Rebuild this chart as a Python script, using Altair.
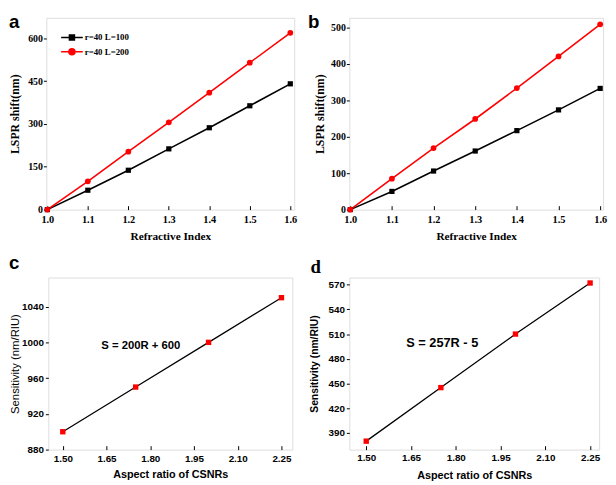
import altair as alt
import pandas as pd

# ---------------- data ----------------
refractive_index = [1.0, 1.1, 1.2, 1.3, 1.4, 1.5, 1.6]
series_names = ["r=40 L=100", "r=40 L=200"]
a_L100 = [0, 68, 138, 213, 287, 364, 441]
a_L200 = [0, 99, 203, 306, 410, 515, 620]
b_L100 = [0, 50, 106, 161, 217, 274, 333]
b_L200 = [0, 85, 169, 249, 334, 421, 509]
aspect_ratio = [1.5, 1.75, 2.0, 2.25]
c_sensitivity = [900, 950, 1000, 1050]
d_sensitivity = [380, 445, 510, 572]

ri_ticks = [1.0, 1.1, 1.2, 1.3, 1.4, 1.5, 1.6]
a_yticks = [0, 150, 300, 450, 600]
b_yticks = [0, 100, 200, 300, 400, 500]
ar_ticks = [1.5, 1.65, 1.8, 1.95, 2.1, 2.25]
c_yticks = [880, 920, 960, 1000, 1040]
d_yticks = [390, 420, 450, 480, 510, 540, 570]

SERIF = "Liberation Serif"
SANS = "Liberation Sans"

# legend glyphs: short line with a marker in the middle
SQ = "M-2.2,0H2.2M-0.5,-0.5H0.5V0.5H-0.5ZM-0.5,-0.25H0.5M-0.5,0.25H0.5"
CI = "M-2.2,0H2.2M0.6,0A0.6,0.6,0,1,1,-0.6,0A0.6,0.6,0,1,1,0.6,0ZM-0.45,-0.3H0.45M-0.45,0.3H0.45"


def panel_label(text, x, y, font, size, baseline):
    return alt.Chart(alt.Data(values=[{"t": text}])).mark_text(
        align="left", baseline=baseline, font=font, fontSize=size,
        fontWeight="bold", color="black"
    ).encode(x=alt.value(x), y=alt.value(y), text="t:N")


def lspr_panel(l100, l200, w, h, xdom, ydom, yticks, ytitle_pad,
               lx, ly, rowpad, label, label_x, label_y, label_font):
    d100 = pd.DataFrame({"n": refractive_index, "shift": l100})
    d200 = pd.DataFrame({"n": refractive_index, "shift": l200})
    xenc = alt.X("n:Q", scale=alt.Scale(domain=xdom, nice=False, zero=False),
                 axis=alt.Axis(values=ri_ticks, format=".1f", title="Refractive Index",
                               offset=-4, tickSize=4, labelPadding=5, titlePadding=6,
                               domain=False, grid=False, labelFlush=False, labelOverlap=False,
                               labelFont=SERIF, labelFontSize=10.5, labelFontWeight="bold",
                               titleFont=SERIF, titleFontSize=11.5, titleFontWeight="bold",
                               labelColor="black", titleColor="black", tickColor="black"))
    yenc = alt.Y("shift:Q", scale=alt.Scale(domain=ydom, nice=False, zero=False),
                 axis=alt.Axis(values=yticks, format="d", title="LSPR shift(nm)",
                               tickSize=3, labelPadding=1, titlePadding=ytitle_pad,
                               domain=False, grid=False, labelFlush=False, labelOverlap=False,
                               labelFont=SERIF, labelFontSize=10, labelFontWeight="bold",
                               titleFont=SERIF, titleFontSize=12, titleFontWeight="bold",
                               labelColor="black", titleColor="black", tickColor="black"))
    leg = alt.Legend(
        title=None, orient="none", legendX=lx, legendY=ly, symbolSize=100,
        labelFont=SERIF, labelFontSize=9, labelFontWeight="bold", labelColor="black",
        labelOffset=7, rowPadding=rowpad, padding=0, symbolStrokeWidth=1.6,
        symbolOpacity=1,
    )
    cscale = alt.Scale(domain=series_names, range=["black", "red"])
    sscale = alt.Scale(domain=series_names, range=[SQ, CI])
    line100 = alt.Chart(d100).mark_line(color="black", strokeWidth=1.6).encode(x=xenc, y=yenc)
    line200 = alt.Chart(d200).mark_line(color="red", strokeWidth=1.6).encode(x=xenc, y=yenc)
    pts100 = alt.Chart(d100).mark_point(shape="square", filled=True, color="black",
                                        size=28, opacity=1).encode(x=xenc, y=yenc)
    pts200 = alt.Chart(d200).mark_point(shape="circle", filled=True, color="red",
                                        size=34, opacity=1).encode(x=xenc, y=yenc)
    legend_layer = alt.Chart(alt.Data(values=[{"series": s} for s in series_names])).transform_filter(
        "false"
    ).mark_point(filled=False, opacity=1, strokeWidth=1.6).encode(
        color=alt.Color("series:N", scale=cscale, legend=leg),
        shape=alt.Shape("series:N", scale=sscale, legend=leg),
    )
    lab = panel_label(label, label_x, label_y, label_font, 19, "top")
    return alt.layer(line100, line200, pts100, pts200, legend_layer, lab).properties(width=w, height=h)


def sens_panel(vals, w, h, xdom, ydom, yticks, ytitle_pad, ytitle_weight, ytitle_size,
               xlabel_pad, xtitle_pad, eq_text, eq_x, eq_y, eq_size,
               label, label_x, label_y, label_font, label_baseline):
    df = pd.DataFrame({"ar": aspect_ratio, "s": vals})
    xenc = alt.X("ar:Q", scale=alt.Scale(domain=xdom, nice=False, zero=False),
                 axis=alt.Axis(values=ar_ticks, format=".2f", title="Aspect ratio of CSNRs",
                               offset=-4, tickSize=4, labelPadding=xlabel_pad, titlePadding=xtitle_pad,
                               domain=False, grid=False, labelFlush=False, labelOverlap=False,
                               labelFont=SANS, labelFontSize=10, labelFontWeight="bold",
                               titleFont=SANS, titleFontSize=11, titleFontWeight="bold",
                               labelColor="black", titleColor="black", tickColor="black"))
    yenc = alt.Y("s:Q", scale=alt.Scale(domain=ydom, nice=False, zero=False),
                 axis=alt.Axis(values=yticks, format="d", title="Sensitivity (nm/RIU)",
                               tickSize=3, labelPadding=2, titlePadding=ytitle_pad,
                               domain=False, grid=False, labelFlush=False, labelOverlap=False,
                               labelFont=SANS, labelFontSize=10, labelFontWeight="bold",
                               titleFont=SANS, titleFontSize=ytitle_size, titleFontWeight=ytitle_weight,
                               labelColor="black", titleColor="black", tickColor="black"))
    line = alt.Chart(df).mark_line(color="black", strokeWidth=1.3).encode(x=xenc, y=yenc)
    pts = alt.Chart(df).mark_point(shape="square", filled=True, color="red", size=30,
                                   opacity=1).encode(x=xenc, y=yenc)
    eq = alt.Chart(alt.Data(values=[{"t": eq_text}])).mark_text(
        font=SANS, fontWeight="bold", fontSize=eq_size, color="black"
    ).encode(x=alt.value(eq_x), y=alt.value(eq_y), text="t:N")
    lab = panel_label(label, label_x, label_y, label_font, 19, label_baseline)
    return alt.layer(line, pts, eq, lab).properties(width=w, height=h)


pa = lspr_panel(a_L100, a_L200, 252, 195, [0.9976, 1.6097], [0, 672.4], a_yticks, 6,
                20, 14, 1.5, "a", -38, -5, SANS)
pb = lspr_panel(b_L100, b_L200, 258, 195, [0.9977, 1.6070], [0, 527], b_yticks, 4,
                21.5, 12.5, 0, "b", -42, -5, SANS)
pc = sens_panel(c_sensitivity, 248, 175, [1.4504, 2.2871], [880, 1072.6], c_yticks, 1.5,
                "normal", 11.5, 4.5, 5, "S = 200R + 600", 94, 70, 11.5,
                "c", -40, -9, SANS, "alphabetic")
pd_ = sens_panel(d_sensitivity, 254, 175, [1.4433, 2.2803], [369.7, 578.7], d_yticks, 9,
                 "bold", 10.5, 3, 7, "S = 257R - 5", 94.5, 67, 13,
                 "d", -39.5, -5, SERIF, "alphabetic")

chart = alt.concat(
    pa, pb, pc, pd_, columns=2, spacing={"row": 69, "column": 56},
    bounds="flush", center=True, align="each",
).properties(
    padding=0
).configure_view(stroke="black", strokeWidth=1).configure(background="white")

chart.save("out.html", embed_options={"renderer": "svg", "actions": False})
